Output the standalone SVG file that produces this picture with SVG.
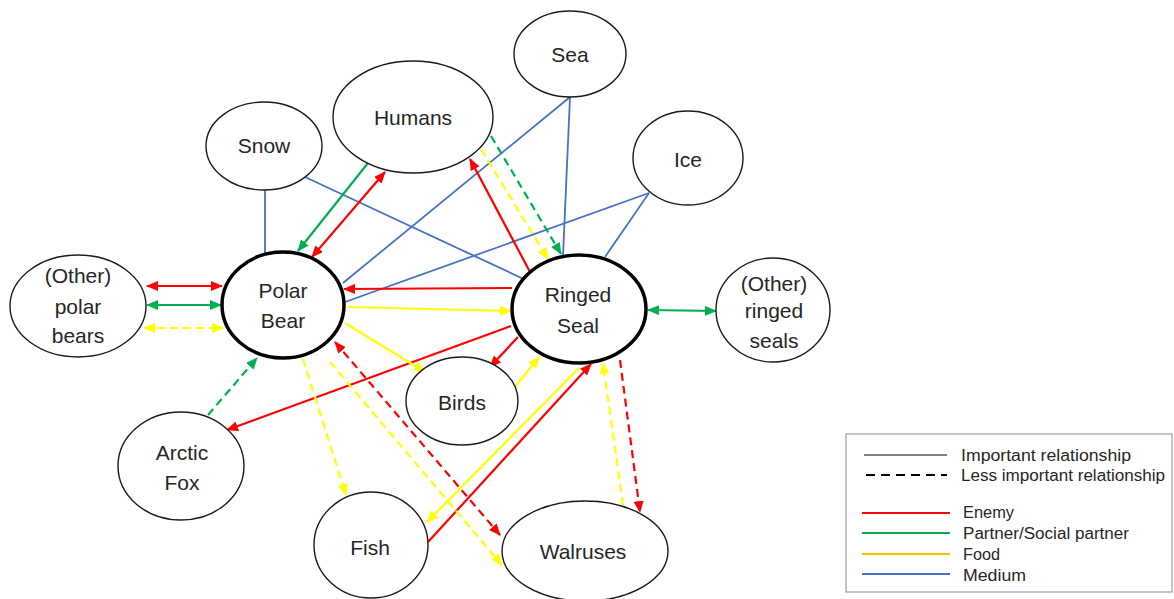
<svg xmlns="http://www.w3.org/2000/svg" width="1174" height="599" viewBox="0 0 1174 599">
  <style>
    .node { fill: #ffffff; stroke: #1a1a1a; stroke-width: 1.4; }
    .main { fill: #ffffff; stroke: #000000; stroke-width: 3.5; }
    .lbl { font-family: "Liberation Sans", Arial, sans-serif; font-size: 21px; fill: #262626; text-anchor: middle; }
    .leg { font-family: "Liberation Sans", Arial, sans-serif; font-size: 16px; fill: #262626; }
    .c { fill: none; stroke-width: 2.2; }
    .red { stroke: #ff0000; }
    .green { stroke: #00b050; }
    .yellow { stroke: #ffff00; }
    .blue { stroke: #4472c4; stroke-width: 1.8; }
    .dash { stroke-dasharray: 8 5; }
    .ar-red { marker-end: url(#mRed); }
    .ar-green { marker-end: url(#mGreen); }
    .ar-yellow { marker-end: url(#mYellow); }
    .both-red { marker-start: url(#mRed); marker-end: url(#mRed); }
    .both-green { marker-start: url(#mGreen); marker-end: url(#mGreen); }
    .both-yellow { marker-start: url(#mYellow); marker-end: url(#mYellow); }
  </style>
  <defs>
    <marker id="mRed" viewBox="0 0 12 10" refX="11" refY="5" markerWidth="12" markerHeight="10" markerUnits="userSpaceOnUse" orient="auto-start-reverse">
      <path d="M0,0 L12,5 L0,10 z" fill="#ff0000"/>
    </marker>
    <marker id="mGreen" viewBox="0 0 12 10" refX="11" refY="5" markerWidth="12" markerHeight="10" markerUnits="userSpaceOnUse" orient="auto-start-reverse">
      <path d="M0,0 L12,5 L0,10 z" fill="#00b050"/>
    </marker>
    <marker id="mYellow" viewBox="0 0 12 10" refX="11" refY="5" markerWidth="12" markerHeight="10" markerUnits="userSpaceOnUse" orient="auto-start-reverse">
      <path d="M0,0 L12,5 L0,10 z" fill="#ffff00"/>
    </marker>
  </defs>

  <rect width="1174" height="599" fill="#ffffff"/>

  <!-- connectors -->
  <g id="connectors">
    <!-- medium (blue) -->
    <line class="c blue" x1="265" y1="190" x2="265" y2="253"/>
    <line class="c blue" x1="305" y1="177" x2="528" y2="281"/>
    <line class="c blue" x1="570" y1="97" x2="343" y2="283"/>
    <line class="c blue" x1="570" y1="97" x2="563" y2="256"/>
    <line class="c blue" x1="649" y1="193" x2="345" y2="302"/>
    <line class="c blue" x1="649" y1="193" x2="605" y2="257"/>

    <!-- other polar bears / polar bear -->
    <line class="c red both-red" x1="147" y1="286" x2="222" y2="286"/>
    <line class="c green both-green" x1="147" y1="305" x2="221" y2="305"/>
    <line class="c yellow dash both-yellow" x1="144" y1="328" x2="223" y2="328"/>

    <!-- humans / polar bear -->
    <line class="c green ar-green" x1="368" y1="163" x2="298" y2="251"/>
    <line class="c red both-red" x1="385" y1="172" x2="312" y2="257"/>

    <!-- humans / ringed seal -->
    <line class="c red ar-red" x1="530" y1="272" x2="470" y2="159"/>
    <line class="c yellow dash ar-yellow" x1="481" y1="149" x2="548" y2="259"/>
    <line class="c green dash ar-green" x1="491" y1="136" x2="561" y2="254"/>

    <!-- ringed seal / polar bear -->
    <line class="c red ar-red" x1="512" y1="288" x2="344" y2="289"/>
    <line class="c yellow ar-yellow" x1="348" y1="307" x2="511" y2="311"/>

    <!-- ringed seal / other ringed seals -->
    <line class="c green both-green" x1="648" y1="310" x2="716" y2="311"/>

    <!-- arctic fox -->
    <line class="c red ar-red" x1="511" y1="326" x2="227" y2="430"/>
    <line class="c green dash ar-green" x1="208" y1="415" x2="257" y2="358"/>

    <!-- birds -->
    <line class="c yellow ar-yellow" x1="345" y1="323" x2="425" y2="372"/>
    <line class="c red ar-red" x1="518" y1="337" x2="490" y2="367"/>
    <line class="c yellow ar-yellow" x1="515" y1="387" x2="539" y2="357"/>

    <!-- fish -->
    <line class="c red ar-red" x1="428" y1="542" x2="591" y2="364"/>
    <line class="c yellow ar-yellow" x1="579" y1="368" x2="427" y2="522"/>
    <line class="c yellow dash ar-yellow" x1="303" y1="359" x2="346" y2="495"/>

    <!-- walruses -->
    <line class="c yellow dash ar-yellow" x1="330" y1="362" x2="502" y2="565"/>
    <line class="c red dash both-red" x1="335" y1="342" x2="500" y2="535"/>
    <line class="c yellow dash ar-yellow" x1="623" y1="505" x2="603" y2="363"/>
    <line class="c red dash ar-red" x1="620" y1="360" x2="640" y2="512"/>
  </g>

  <!-- nodes -->
  <g id="node-other-polar-bears">
    <ellipse class="node" cx="78" cy="306" rx="68" ry="51"/>
    <text class="lbl" x="78" y="283">(Other)</text>
    <text class="lbl" x="78" y="314">polar</text>
    <text class="lbl" x="78" y="343">bears</text>
  </g>
  <g id="node-polar-bear">
    <ellipse class="main" cx="283" cy="305" rx="61" ry="53"/>
    <text class="lbl" x="283" y="298">Polar</text>
    <text class="lbl" x="283" y="328">Bear</text>
  </g>
  <g id="node-ringed-seal">
    <ellipse class="main" cx="579" cy="309" rx="67" ry="54"/>
    <text class="lbl" x="578" y="302">Ringed</text>
    <text class="lbl" x="578" y="333">Seal</text>
  </g>
  <g id="node-other-ringed-seals">
    <ellipse class="node" cx="773" cy="310" rx="57" ry="52"/>
    <text class="lbl" x="774" y="291">(Other)</text>
    <text class="lbl" x="774" y="318">ringed</text>
    <text class="lbl" x="774" y="348">seals</text>
  </g>
  <g id="node-snow">
    <ellipse class="node" cx="264" cy="146" rx="58" ry="44"/>
    <text class="lbl" x="264" y="153">Snow</text>
  </g>
  <g id="node-humans">
    <ellipse class="node" cx="413" cy="117" rx="80" ry="56"/>
    <text class="lbl" x="413" y="125">Humans</text>
  </g>
  <g id="node-sea">
    <ellipse class="node" cx="570" cy="54" rx="56" ry="43"/>
    <text class="lbl" x="570" y="62">Sea</text>
  </g>
  <g id="node-ice">
    <ellipse class="node" cx="688" cy="158" rx="55" ry="47"/>
    <text class="lbl" x="688" y="167">Ice</text>
  </g>
  <g id="node-arctic-fox">
    <ellipse class="node" cx="181" cy="466" rx="63" ry="54"/>
    <text class="lbl" x="182" y="460">Arctic</text>
    <text class="lbl" x="182" y="490">Fox</text>
  </g>
  <g id="node-birds">
    <ellipse class="node" cx="462" cy="401" rx="56" ry="44"/>
    <text class="lbl" x="462" y="410">Birds</text>
  </g>
  <g id="node-fish">
    <ellipse class="node" cx="371" cy="545" rx="57" ry="53"/>
    <text class="lbl" x="370" y="555">Fish</text>
  </g>
  <g id="node-walruses">
    <ellipse class="node" cx="585" cy="551" rx="83" ry="50"/>
    <text class="lbl" x="583" y="559">Walruses</text>
  </g>

  <!-- legend -->
  <g id="legend">
    <rect x="846" y="434" width="326" height="158" fill="#ffffff" stroke="#a6a6a6" stroke-width="1.3"/>
    <line x1="864" y1="455" x2="947" y2="455" stroke="#808080" stroke-width="2.2"/>
    <text class="leg" x="961" y="461" textLength="170" lengthAdjust="spacingAndGlyphs">Important relationship</text>
    <line x1="866" y1="475" x2="947" y2="475" stroke="#000000" stroke-width="2.2" stroke-dasharray="9 6"/>
    <text class="leg" x="961" y="481" textLength="204" lengthAdjust="spacingAndGlyphs">Less important relationship</text>
    <line x1="862" y1="513" x2="950" y2="513" stroke="#ff0000" stroke-width="2.2"/>
    <text class="leg" x="963" y="518" textLength="51" lengthAdjust="spacingAndGlyphs">Enemy</text>
    <line x1="862" y1="533" x2="950" y2="533" stroke="#00b050" stroke-width="2.2"/>
    <text class="leg" x="963" y="539" textLength="166" lengthAdjust="spacingAndGlyphs">Partner/Social partner</text>
    <line x1="862" y1="554" x2="950" y2="554" stroke="#ffc000" stroke-width="2.2"/>
    <text class="leg" x="963" y="560" textLength="37" lengthAdjust="spacingAndGlyphs">Food</text>
    <line x1="862" y1="574" x2="950" y2="574" stroke="#4472c4" stroke-width="2.2"/>
    <text class="leg" x="963" y="581" textLength="63" lengthAdjust="spacingAndGlyphs">Medium</text>
  </g>
</svg>
